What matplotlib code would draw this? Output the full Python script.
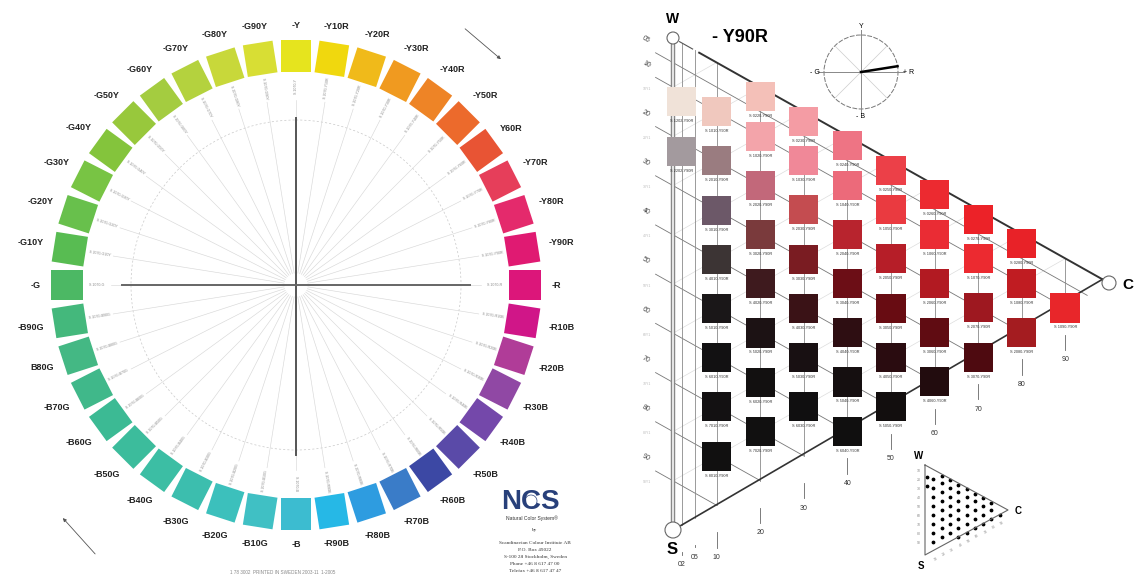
import numpy as np
import matplotlib.pyplot as plt
from matplotlib.patches import Polygon, Circle
from matplotlib.transforms import Affine2D

plt.rcParams['font.family'] = ['Liberation Sans', 'DejaVu Sans']

## NCS hue circle - 40 hues, clockwise from Y
hue_names = ['Y', 'Y10R', 'Y20R', 'Y30R', 'Y40R', 'Y50R', 'Y60R', 'Y70R', 'Y80R', 'Y90R',
             'R', 'R10B', 'R20B', 'R30B', 'R40B', 'R50B', 'R60B', 'R70B', 'R80B', 'R90B',
             'B', 'B10G', 'B20G', 'B30G', 'B40G', 'B50G', 'B60G', 'B70G', 'B80G', 'B90G',
             'G', 'G10Y', 'G20Y', 'G30Y', 'G40Y', 'G50Y', 'G60Y', 'G70Y', 'G80Y', 'G90Y']
hue_labels = ['-' + h for h in hue_names]
hue_labels[6] = 'Y60R'
hue_labels[28] = 'B80G'
hue_colors = ['#e6e41e', '#f0d80e', '#f0ba1a', '#f09a20', '#ee8426', '#ec6a2c', '#e85434',
              '#e63e5a', '#e42a6c', '#e01a72', '#dc167a', '#d01688', '#b03c98', '#9048a4',
              '#7448aa', '#5a4aa8', '#3c48a4', '#3a7cc8', '#2e9ce0', '#26b8e6', '#3cbcd0',
              '#40c0c4', '#3cc0bc', '#3cbeae', '#3cbea4', '#3cbc9c', '#3cba94', '#40b88a',
              '#44b884', '#44b87c', '#4cb864', '#58bc52', '#68c04c', '#78c444', '#84c43c',
              '#98c83c', '#a4cc40', '#b4d23e', '#c8d83a', '#d8de34']

## NCS triangle for hue Y90R - chromaticness columns and blackness of each sample
page_hue = 'Y90R'
chroma = [2, 10, 20, 30, 40, 50, 60, 70, 80, 90]
blackness = [[12, 22],
             [10, 20, 30, 40, 50, 60, 70, 80],
             [2, 10, 20, 30, 40, 50, 60, 70],
             [2, 10, 20, 30, 40, 50, 60],
             [2, 10, 20, 30, 40, 50, 60],
             [2, 10, 20, 30, 40, 50],
             [2, 10, 20, 30, 40],
             [2, 10, 20, 30],
             [2, 10, 20],
             [10]]
sample_colors = [['#f0e2d8', '#a39a9e'],
                 ['#f0c8be', '#9a7c80', '#6c5868', '#3c3434', '#1a1718', '#121112', '#131112', '#111010'],
                 ['#f4c0b8', '#f3a4aa', '#c2687a', '#7a3a3c', '#3e1a1e', '#1c1214', '#121010', '#111010'],
                 ['#f49ca4', '#f08898', '#c44c50', '#7a1c22', '#3a1216', '#181012', '#100f10'],
                 ['#ee7484', '#ec6a7a', '#b8242e', '#6c0e16', '#2e0e12', '#150f10', '#100f0f'],
                 ['#ec4048', '#ea3a40', '#b61e28', '#680c12', '#2a0c10', '#120e0e'],
                 ['#ec2a30', '#ea2c34', '#b21a22', '#600c12', '#220c0e'],
                 ['#ec2228', '#ec2a30', '#9e1820', '#4e0a10'],
                 ['#e82228', '#c01c22', '#a41c20'],
                 ['#e8262a']]
scale_black = [5, 10, 20, 30, 40, 50, 60, 70, 80, 90]
scale_chroma = [2, 5, 10, 20, 30, 40, 50, 60, 70, 80, 90]

fig = plt.figure(figsize=(11.36, 5.77), dpi=100)
ax = fig.add_axes([0, 0, 1, 1])
ax.set_xlim(0, 1136)
ax.set_ylim(577, 0)
ax.axis('off')

## ---------------- hue circle ----------------
cx, cy, R = 296, 285, 229
for i, name in enumerate(hue_names):
    th = np.deg2rad(90 - 9 * i)
    u = np.array([np.cos(th), -np.sin(th)])
    v = np.array([np.sin(th), np.cos(th)])
    ctr = np.array([cx, cy]) + R * u
    pts = [ctr - 16 * u - 15 * v, ctr + 16 * u - 15 * v, ctr + 16 * u + 15 * v, ctr - 16 * u + 15 * v]
    ax.add_patch(Polygon(pts, closed=True, facecolor=hue_colors[i], edgecolor='none'))
    lab = hue_labels[i]
    w = 5.3 * len(lab)
    rl = 255 + abs(np.cos(th)) * w / 2 + abs(np.sin(th)) * 4.5
    ax.text(cx + rl * u[0], cy + rl * u[1], lab, fontsize=6.5, fontweight='bold',
            ha='center', va='center', color='#222222')
    # faint radial guide and small sample code
    ax.plot([cx + 12 * u[0], cx + 185 * u[0]], [cy + 12 * u[1], cy + 185 * u[1]],
            color='#d8d8d8', lw=0.45)
    rot = np.rad2deg(th) if np.cos(th) >= -1e-6 else np.rad2deg(th) + 180
    ax.text(cx + 199 * u[0], cy + 199 * u[1], 'S 1070-' + name, fontsize=2.6,
            color='#8a8a8a', ha='center', va='center', rotation=rot)

ax.add_patch(Circle((cx, cy), 165, fill=False, edgecolor='#c8c8c8', lw=0.5, ls=(0, (3, 3))))
ax.plot([cx, cx], [cy - 167, cy + 170], color='#555555', lw=1.4)
ax.plot([cx - 174, cx + 174], [cy, cy], color='#666666', lw=1.4)

ax.annotate('', xy=(503, 61), xytext=(463, 27),
            arrowprops=dict(arrowstyle='-|>', color='#555555', lw=0.6, mutation_scale=5))
ax.annotate('', xy=(61, 516), xytext=(97, 556),
            arrowprops=dict(arrowstyle='-|>', color='#555555', lw=0.6, mutation_scale=5))
ax.text(283, 572, '1 78 3002  PRINTED IN SWEDEN 2003-11  1-2005', fontsize=3.3,
        color='#888888', ha='center', va='center')

## NCS logo
ax.text(530, 502, 'NCS', fontsize=20, fontweight='bold', color='#28407a',
        ha='center', va='center')
ax.add_patch(Circle((531, 501), 6, fill=False, edgecolor='#28407a', lw=0.5))
ax.text(532, 518, 'Natural Color System\u00ae', fontsize=3.6, color='#333333',
        ha='center', va='center')
logo_lines = ['by', 'Scandinavian Colour Institute AB', 'P.O. Box 49022',
              'S-100 28 Stockholm, Sweden', 'Phone +46 8 617 47 00', 'Telefax +46 8 617 47 47']
for k, line in enumerate(logo_lines):
    ax.text(535, 530 + k * 7 + (6 if k else 0), line, fontsize=3.8, color='#333333',
            ha='center', va='center', family='Liberation Serif')

## ---------------- NCS triangle ----------------
W = (673, 38)
S = (673, 530)
C = (1109, 283)


def tri_transform(Wp, Sp, Cp):
    # maps (chromaticness, blackness) in % to figure pixels
    return Affine2D.from_values((Cp[0] - Wp[0]) / 100, (Cp[1] - Wp[1]) / 100,
                                (Sp[0] - Wp[0]) / 100, (Sp[1] - Wp[1]) / 100,
                                Wp[0], Wp[1]) + ax.transData


tri = tri_transform(W, S, C)

# constant whiteness lines (faint)
for wv in range(10, 100, 10):
    ax.plot([0, 100 - wv], [100 - wv, 0], transform=tri, color='#dddddd', lw=0.5)
# constant blackness lines
for sv in scale_black:
    ax.plot([-4, 100 - sv], [sv, sv], transform=tri, color='#777777', lw=0.6)
    ax.text(-5, sv - 2.2, '%02d' % sv, transform=tri, fontsize=5, color='#444444',
            ha='right', va='center', rotation=-29)
    ax.text(-5, sv + 2.8, '%dY1' % sv, transform=tri, fontsize=2.5, color='#bbbbbb',
            ha='right', va='center')
# constant chromaticness lines with ticks
for cv in scale_chroma:
    off = 8.0 if cv < 10 else 10.6
    ax.plot([cv, cv], [0, 100 - cv], transform=tri, color='#8a8a8a', lw=0.6)
    ax.plot([cv, cv], [100 - cv + 5.5, 100 - cv + off - 2.0], transform=tri,
            color='#666666', lw=0.6)
    ax.text(cv, 100 - cv + off, '%02d' % cv, transform=tri,
            fontsize=5, color='#333333', ha='center', va='center')

# triangle edges
ax.plot([0, 0], [0, 100], transform=tri, color='#888888', lw=3.2)
ax.plot([0, 0], [0, 100], transform=tri, color='white', lw=1.1)
ax.plot([6, 98.5], [0, 0], transform=tri, color='#333333', lw=1.4)
ax.plot([1.5, 98.5], [98.5, 0], transform=tri, color='#333333', lw=1.2)
ax.plot([1.5, 4.5], [0, 0], transform=tri, color='#555555', lw=0.8)

for (px, py), r in [(W, 6), (S, 8), (C, 7)]:
    ax.add_patch(Circle((px, py), r, facecolor='white', edgecolor='#666666', lw=0.8, zorder=4))
ax.text(673, 19, 'W', fontsize=10, fontweight='bold', ha='center', va='center')
ax.text(672, 549, 'S', fontsize=12, fontweight='bold', ha='center', va='center')
ax.text(1128, 285, 'C', fontsize=11, fontweight='bold', ha='center', va='center')
ax.text(712, 37, '- ' + page_hue, fontsize=13, fontweight='bold', ha='left', va='center')

# colour samples
for cv, svals, cols in zip(chroma, blackness, sample_colors):
    ax.scatter([cv] * len(svals), svals, marker='s', s=436, c=cols, linewidths=0,
               transform=tri, zorder=3)
    for sv in svals:
        ax.annotate('S %02d%02d-%s' % (sv, cv, page_hue), (cv, sv), xycoords=tri,
                    xytext=(0, -14), textcoords='offset points', fontsize=2.8,
                    color='#333333', ha='center', va='center', zorder=3)

## small hue indicator
hx, hy, hr = 861, 72, 37
ax.add_patch(Circle((hx, hy), hr, fill=False, edgecolor='#777777', lw=0.7, ls=(0, (5, 1.5))))
ax.plot([hx, hx], [hy - 42, hy + 41], color='#888888', lw=0.7)
ax.plot([hx - 43, hx + 43], [hy, hy], color='#888888', lw=0.7)
for a in (45, 135):
    ax.plot([hx - hr * np.cos(np.deg2rad(a)), hx + hr * np.cos(np.deg2rad(a))],
            [hy + hr * np.sin(np.deg2rad(a)), hy - hr * np.sin(np.deg2rad(a))],
            color='#cccccc', lw=0.5)
ha_ = np.deg2rad(90 - 9 * hue_names.index(page_hue))
ax.plot([hx, hx + hr * np.cos(ha_)], [hy, hy - hr * np.sin(ha_)], color='black', lw=1.8)
ax.text(hx, hy - 46, 'Y', fontsize=5, ha='center', va='center')
ax.text(hx, hy + 45, '- B', fontsize=5, ha='center', va='center')
ax.text(hx - 46, hy, '- G', fontsize=5, ha='center', va='center')
ax.text(hx + 48, hy, '+ R', fontsize=5, ha='center', va='center')

## inset triangle
iW, iS, iC = (925, 465), (925, 555), (1008, 510)
itri = tri_transform(iW, iS, iC)
ax.plot([0, 0, 100, 0], [0, 100, 0, 0], transform=itri, color='#666666', lw=0.8)
for cv, svals in zip(chroma, blackness):
    ax.scatter([cv] * len(svals), svals, marker='o', s=3, color='black', transform=itri)
for sv in scale_black[1:]:
    ax.text(-7, sv, str(sv), transform=itri, fontsize=2.5, color='#888888',
            ha='center', va='center')
for cv in scale_chroma[2:]:
    ax.text(cv + 3, 100 - cv + 8, str(cv), transform=itri, fontsize=2.5, color='#888888',
            ha='center', va='center', rotation=29)
ax.text(919, 456, 'W', fontsize=7, fontweight='bold', ha='center', va='center')
ax.text(921, 566, 'S', fontsize=7, fontweight='bold', ha='center', va='center')
ax.text(1018, 511, 'C', fontsize=7, fontweight='bold', ha='center', va='center')

fig.savefig('out.png', dpi=100, facecolor='white')
